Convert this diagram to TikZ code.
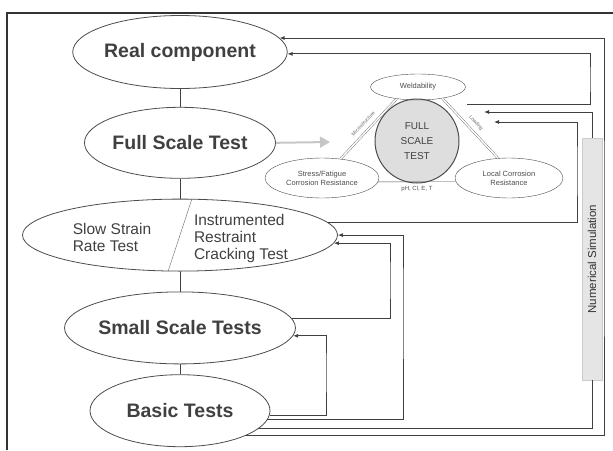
\documentclass[tikz,border=0pt]{standalone}
\usepackage{fontspec}
\setmainfont{Liberation Sans}
\usetikzlibrary{arrows.meta,positioning,calc,shapes.geometric}

\begin{document}
\begin{tikzpicture}[
    x=1pt, y=-1pt,
    >={Latex[length=5pt,width=4pt]},
    phase/.style={
        draw=black!70, thick,
        ellipse, inner sep=0pt,
        minimum width=180pt,
        minimum height=72pt,
        font=\fontsize{19.5}{21}\selectfont\bfseries,
        text=black!75
    },
    prop/.style={draw=black!70, ellipse, inner sep=0pt, align=center,
        font=\fontsize{7.5}{9}\selectfont, text=black!70},
    link/.style={draw=black!75, line width=0.8pt},
    tiny/.style={font=\fontsize{5}{6}\selectfont, text=black!60, sloped},
]
\useasboundingbox (0,0) rectangle (613,450);
\draw[black!80, line width=1.5pt] (7,450) -- (7,13) -- (613,13);

% test hierarchy
\node[phase, minimum width=178pt, minimum height=73pt] (real) at (180,52) {Real component};
\node[phase, minimum width=165pt, minimum height=71pt, below=18pt of real] (full) {Full Scale Test};
\node[phase, minimum width=315pt, below=20pt of full] (slow) {};
\node[phase, below=20pt of slow] (small) {Small Scale Tests};
\node[phase, below=10pt of small] (basic) {Basic Tests};

\node[align=left, font=\fontsize{15.5}{17}\selectfont, text=black!75]
    (ssrt) at ($(slow.center)+(-68,2)$) {Slow Strain\\Rate Test};
\node[align=left, font=\fontsize{15.5}{17}\selectfont, text=black!75]
    (irct) at ($(slow.center)+(61,3)$) {Instrumented\\Restraint\\Cracking Test};
\draw[black!60] ($(slow.north)+(12,0)$) -- ($(slow.south)+(-12,0)$);

\draw[link] (real) -- (full);
\draw[link] (full) -- (slow);
\draw[link] (slow) -- (small);
\draw[link] (small) -- (basic);

% full scale test cluster
\node[circle, draw=black!70, fill=black!13, line width=1pt, minimum size=84pt,
      align=center, font=\fontsize{10}{15}\selectfont, text=black!75] (fst) at (417,141)
      {FULL\\SCALE\\TEST};
\node[prop, minimum width=95pt, minimum height=26pt] (weld) at (418,87) {Weldability};
\node[prop, minimum width=114pt, minimum height=40pt] (scc) at (322,178) {Stress/Fatigue\\Corrosion Resistance};
\node[prop, minimum width=108pt, minimum height=40pt] (loc) at (509,178) {Local Corrosion\\Resistance};

\draw[black!60, double, double distance=1.5pt] (scc.46) -- (weld.-151)
    node[tiny, midway, above=2pt] {Microstructure};
\draw[black!60, double, double distance=1.5pt] (weld.-25) -- (loc.119)
    node[tiny, midway, above=2pt] {Loading};
\draw[black!70] (scc.-4) -- (loc.184)
    node[midway, below=1pt, font=\fontsize{6}{7}\selectfont, text=black!70] {pH, Cl, E, T};

\coordinate (gofst) at (330,142);
\draw[-{Triangle[length=10pt,width=11pt]}, line width=2pt, gray!45] (full.east) -- (gofst);

% numerical simulation
\node[draw=gray!40, fill=gray!20, minimum width=20pt, minimum height=242pt, inner sep=0pt,
      font=\fontsize{11.5}{13}\selectfont, text=black!80] (num) at (592,259)
      {\rotatebox{90}{Numerical Simulation}};

\coordinate (inA) at (467,104);
\coordinate (inB) at (484,112);
\coordinate (inC) at (494,122);
\coordinate (railA) at (604,240);
\coordinate (railB) at (590,80);
\coordinate (railC) at (577,170);
\coordinate (railD) at (403,300);
\coordinate (railE) at (390,280);
\coordinate (railF) at (326,370);

\draw[link,->] (basic.-21) -| (railA) |- (real.8);
\draw[link,->] (inA) -| (railB) |- (real.-1);
\draw[link,->] (num.north) |- (inB);
\draw[link] (num.south) |- (basic.-13);
\draw[link,->] (slow.5) -| (railC) |- (inC);
\draw[link,->] (basic.-6.6) -| (railD) |- (slow.0);
\draw[link,->] (small.5.9) -| (railE) |- (slow.-3.4);
\draw[link,->] (basic.-3.2) -| (railF) |- (small.-4.5);

\end{tikzpicture}
\end{document}
